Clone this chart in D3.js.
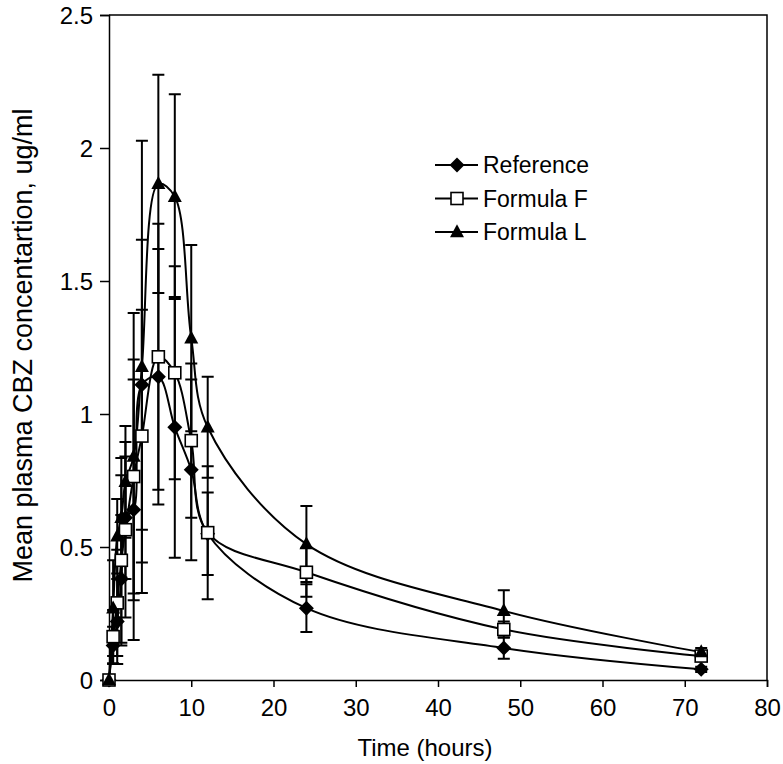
<!DOCTYPE html>
<html>
<head>
<meta charset="utf-8">
<script src="https://cdn.jsdelivr.net/npm/d3@7/dist/d3.min.js"></script>
<style>
  body { margin: 0; background: #fff; }
  svg { display: block; }
  text { font-family: "Liberation Sans", Arial, Helvetica, sans-serif; fill: #000; }
</style>
</head>
<body>
<svg id="chart" width="783" height="764"></svg>
<script>
// ---- data ----
const times = [0, 0.5, 1, 1.5, 2, 3, 4, 6, 8, 10, 12, 24, 48, 72];
const refMean = [0, 0.13, 0.22, 0.38, 0.61, 0.64, 1.11, 1.14, 0.95, 0.79, 0.55, 0.27, 0.12, 0.04];
const refSD   = [0, 0.07, 0.16, 0.24, 0.23, 0.49, 0.545, 0.48, 0.49, 0.34, 0.155, 0.09, 0.04, 0.01];
const fMean   = [0, 0.163, 0.29, 0.45, 0.565, 0.765, 0.917, 1.215, 1.155, 0.90, 0.554, 0.405, 0.19, 0.09];
const fSD     = [0, 0.10, 0.20, 0.32, 0.33, 0.44, 0.475, 0.50, 0.40, 0.29, 0.25, 0.092, 0.03, 0.015];
const lMean   = [0, 0.27, 0.54, 0.61, 0.745, 0.84, 1.177, 1.865, 1.817, 1.285, 0.95, 0.511, 0.26, 0.105];
const lSD     = [0, 0.18, 0.14, 0.225, 0.21, 0.54, 0.85, 0.41, 0.385, 0.35, 0.19, 0.143, 0.077, 0.015];
const seriesNames = ["Reference", "Formula F", "Formula L"];
const xTicks = [0, 10, 20, 30, 40, 50, 60, 70, 80];
const yTicks = [0, 0.5, 1, 1.5, 2, 2.5];
const xTitle = "Time (hours)";
const yTitle = "Mean plasma CBZ concentartion, ug/ml";

const series = [
  { name: seriesNames[0], mean: refMean, sd: refSD, marker: "diamond" },
  { name: seriesNames[1], mean: fMean, sd: fSD, marker: "square" },
  { name: seriesNames[2], mean: lMean, sd: lSD, marker: "triangle" }
];

// ---- layout ----
const svg = d3.select("#chart");
const x = d3.scaleLinear().domain([0, 80]).range([109, 767]);
const y = d3.scaleLinear().domain([0, 2.5]).range([680, 15]);

// frame (top and right)
svg.append("path")
  .attr("d", `M${x(0)},${y(2.5)}H${x(80)}V${y(0)}`)
  .attr("fill", "none").attr("stroke", "#000").attr("stroke-width", 1.5);

// axes
const gx = svg.append("g").attr("transform", `translate(0,${y(0)})`)
  .call(d3.axisBottom(x).tickValues(xTicks).tickSize(7).tickPadding(12).tickFormat(d3.format("d")));
const gy = svg.append("g").attr("transform", `translate(${x(0)},0)`)
  .call(d3.axisLeft(y).tickValues(yTicks).tickSize(9).tickPadding(7).tickFormat(d => String(d)));
[gx, gy].forEach(g => {
  g.select(".domain").attr("stroke", "#000").attr("stroke-width", 1.5);
  g.selectAll(".tick line").attr("stroke", "#000").attr("stroke-width", 1.5);
  g.selectAll(".tick text").attr("font-size", 24).attr("font-family", '"Liberation Sans", Arial, sans-serif').attr("fill", "#000");
});
gy.selectAll(".tick text").attr("dy", "0.35em");

// axis titles
svg.append("text").attr("x", 425).attr("y", 756)
  .attr("text-anchor", "middle").attr("font-size", 24).text(xTitle);
svg.append("text").attr("transform", `translate(32,${(y(0) + y(2.5)) / 2 - 2}) rotate(-90)`)
  .attr("text-anchor", "middle").attr("font-size", 27).text(yTitle);

// marker drawing
function drawMarker(g, type, cx, cy) {
  if (type === "diamond") {
    const r = 7.5;
    g.append("path").attr("d", `M${cx},${cy - r}L${cx + r},${cy}L${cx},${cy + r}L${cx - r},${cy}Z`)
      .attr("fill", "#000");
  } else if (type === "square") {
    const s = 12;
    g.append("rect").attr("x", cx - s / 2).attr("y", cy - s / 2).attr("width", s).attr("height", s)
      .attr("fill", "#fff").attr("stroke", "#000").attr("stroke-width", 1.6);
  } else {
    const w = 14, h = 13;
    g.append("path").attr("d", `M${cx},${cy - h * 0.6}L${cx + w / 2},${cy + h * 0.4}L${cx - w / 2},${cy + h * 0.4}Z`)
      .attr("fill", "#000");
  }
}

// error bars
const eb = svg.append("g").attr("stroke", "#000").attr("stroke-width", 2).attr("fill", "none");
series.forEach(s => {
  times.forEach((t, i) => {
    if (s.sd[i] <= 0) return;
    const cx = x(t), y1 = y(s.mean[i] + s.sd[i]), y2 = y(Math.max(0, s.mean[i] - s.sd[i]));
    eb.append("path").attr("d", `M${cx},${y1}V${y2}M${cx - 6},${y1}H${cx + 6}M${cx - 6},${y2}H${cx + 6}`);
  });
});

// lines
const line = d3.line().x(d => x(d[0])).y(d => y(d[1])).curve(d3.curveCatmullRom.alpha(0.5));
series.forEach(s => {
  svg.append("path").datum(times.map((t, i) => [t, s.mean[i]]))
    .attr("d", line).attr("fill", "none").attr("stroke", "#000").attr("stroke-width", 2);
});

// markers
const mk = svg.append("g");
series.forEach(s => {
  times.forEach((t, i) => drawMarker(mk, s.marker, x(t), y(s.mean[i])));
});

// legend
const lg = svg.append("g");
series.forEach((s, i) => {
  const ly = 165 + i * 33.5;
  lg.append("line").attr("x1", 435).attr("x2", 478).attr("y1", ly).attr("y2", ly)
    .attr("stroke", "#000").attr("stroke-width", 2);
  drawMarker(lg, s.marker, 457, ly);
  lg.append("text").attr("x", 483).attr("y", ly).attr("dy", "0.36em")
    .attr("font-size", 23).text(s.name);
});
</script>
</body>
</html>
